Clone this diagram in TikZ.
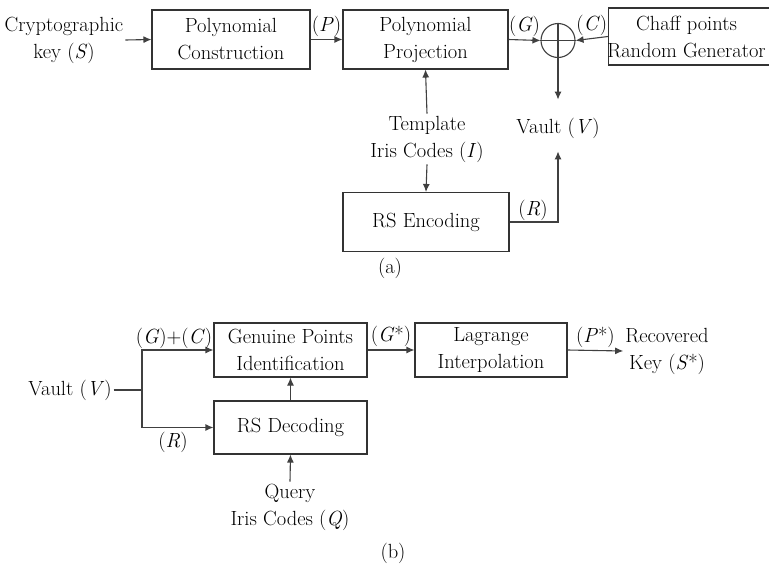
\documentclass[tikz,border=0pt]{standalone}
\usetikzlibrary{arrows.meta}
\usetikzlibrary{calc}

\tikzset{
    blok/.style={draw=black!80,line width=1.1pt,align=center,inner sep=2pt},
    fl/.style={-{Latex[length=8pt,width=7pt]}},
    lien/.style={draw=black!75,line width=1.1pt},
    txt/.style={align=center,inner sep=2pt}
}

\begin{document}
\begin{tikzpicture}[x=1pt,y=-1pt,font=\fontsize{20.5}{27}\selectfont]
                \clip (0,0) rectangle (769,565);
                \fill[white] (0,0) rectangle (769,565);

                % (a) chiffrement
                \node[txt] (key) at (64,40) {Cryptographic\\key (\textit{S})};
                \node[blok,minimum width=158,minimum height=59] (cons) at (231,39.5) {Polynomial\\Construction};
                \node[blok,minimum width=165,minimum height=59] (proj) at (425.5,39.5) {Polynomial\\Projection};
                \node[draw=black!75,line width=1.1pt,circle,minimum size=34] (sum) at (558,40.5) {};
                \node[blok,minimum width=168,minimum height=57,anchor=west] (chaff) at (608,36.5) {\hspace*{-12pt}Chaff points\\\hspace*{-12pt}Random Generator};
                \node[txt] (vaultA) at (558,128) {Vault (\textit{V})};
                \node[txt] (tmpl) at (427,139) {Template\\Iris Codes (\textit{I})};
                \node[blok,minimum width=166,minimum height=59] (rsenc) at (426,222) {RS Encoding};

                \draw[lien] (sum.north) -- (sum.south);
                \draw[lien] (sum.west) -- (sum.east);

                \draw[lien,fl] (key.east) -- (cons.west);
                \draw[lien,fl] (cons.east) -- (proj.west) node[midway,above=-1pt] (lP) {(\textit{P})};
                \draw[lien,fl] (proj.east) -- (sum.west) node[midway,above=-1pt] (lG) {(\textit{G})};
                \draw[lien,fl] (chaff.west) -- (sum.east) node[midway,above=-1pt] (lC) {(\textit{C})};
                \draw[lien,fl,shorten >=16pt] (sum.south) -- (vaultA.north);
                \draw[lien,fl] (tmpl.north) -- (proj.south);
                \draw[lien,fl] (tmpl.south) -- (rsenc.north);
                \draw[lien,fl,shorten >=11pt] (rsenc.east) -| (vaultA.south);
                \node[txt] (lR) at (533,210) {(\textit{R})};
                \node[txt] (capa) at (390,268) {(a)};

                % (b) dechiffrement
                \node[txt] (vaultB) at (70,390) {Vault (\textit{V})};
                \coordinate (sp) at (142,390);
                \node[blok,minimum width=153,minimum height=54] (gpi) at (290.5,350) {Genuine Points\\Identification};
                \node[blok,minimum width=153,minimum height=53] (rsdec) at (290.5,427.5) {RS Decoding};
                \node[blok,minimum width=152,minimum height=54] (lagr) at (491,350) {Lagrange\\Interpolation};
                \node[txt] (rec) at (667,351) {Recovered\\Key (\textit{S}*)};
                \node[txt] (query) at (290,507) {Query\\Iris Codes (\textit{Q})};

                \draw[lien] (vaultB.east) -- (sp);
                \draw[lien,fl] (sp) |- (gpi.west);
                \draw[lien,fl] (sp) |- (rsdec.west);
                \draw[lien,fl] (rsdec.north) -- (gpi.south);
                \draw[lien,fl] (query.north) -- (rsdec.south);
                \draw[lien,fl] (gpi.east) -- (lagr.west) node[midway,above=-1pt] (lGs) {(\textit{G}*)};
                \draw[lien,fl] (lagr.east) -- (rec.west) node[midway,above=-1pt] (lPs) {(\textit{P}*)};
                \node[txt] (lGC) at (174,338) {(\textit{G})+(\textit{C})};
                \node[txt] (lRb) at (173,442) {(\textit{R})};
                \node[txt] (capb) at (393,553) {(b)};
            \end{tikzpicture}
\end{document}
